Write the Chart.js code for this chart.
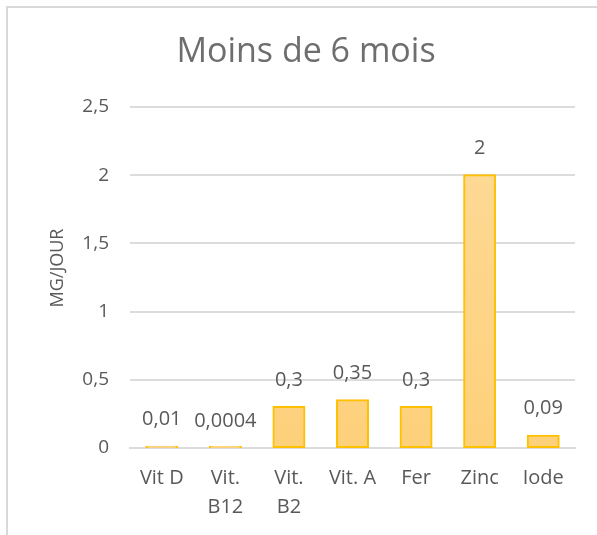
<!DOCTYPE html>
<html>
<head>
<meta charset="utf-8">
<script src="https://cdn.jsdelivr.net/npm/chart.js@4"></script>
<style>
  body { margin: 0; background: #fff; }
  #wrap { position: relative; width: 597px; height: 535px; }
  #frame { position: absolute; left: 6px; top: 6px; right: -4px; bottom: -4px;
           border-left: 2px solid #d9d9d9; border-top: 2px solid #d9d9d9; }
  canvas { position: absolute; left: 0; top: 0; }
</style>
</head>
<body>
<div id="wrap">
  <div id="frame"></div>
  <canvas id="ov" width="597" height="535"></canvas>
</div>
<script>
const categories = ["Vit D", ["Vit.", "B12"], ["Vit.", "B2"], "Vit. A", "Fer", "Zinc", "Iode"];
const valuesMg = [0.01, 0.0004, 0.3, 0.35, 0.3, 2, 0.09];
const yTicks = [0, 0.5, 1, 1.5, 2, 2.5];
const chartTitle = "Moins de 6 mois";
const yTitle = "MG/JOUR";

const grey = "#595959";
const fontFamily = "'Open Sans', sans-serif";

function fr(v) {
  return String(v).replace(".", ",");
}

// titres (placés comme dans Excel) + étiquettes au-dessus des barres
const barLabels = {
  id: "barLabels",
  afterDatasetsDraw(chart) {
    const ctx = chart.ctx;
    const meta = chart.getDatasetMeta(0);
    ctx.save();
    ctx.font = "34px " + fontFamily;
    ctx.fillStyle = "#6e6e6e";
    ctx.textAlign = "center";
    ctx.textBaseline = "alphabetic";
    ctx.fillText(chartTitle, 306, 62);

    ctx.save();
    ctx.translate(58, 268);
    ctx.rotate(-Math.PI / 2);
    ctx.font = "18px " + fontFamily;
    ctx.fillStyle = grey;
    ctx.textBaseline = "middle";
    ctx.fillText(yTitle, 0, 0);
    ctx.restore();

    ctx.font = "20px " + fontFamily;
    ctx.fillStyle = grey;
    ctx.textBaseline = "middle";
    meta.data.forEach((bar, i) => {
      ctx.fillText(fr(valuesMg[i]), bar.x, bar.y - 27);
    });
    ctx.restore();
  },
};

function barFill(context) {
  const area = context.chart.chartArea;
  if (!area) return "#fed58a";
  const g = context.chart.ctx.createLinearGradient(0, area.top, 0, area.bottom);
  g.addColorStop(0, "#fedb9a");
  g.addColorStop(1, "#fdd07a");
  return g;
}

const ctx = document.getElementById("ov").getContext("2d");
const myChart = new Chart(ctx, {
  type: "bar",
  data: {
    labels: categories,
    datasets: [
      {
        data: valuesMg,
        backgroundColor: barFill,
        borderColor: "#ffc000",
        borderWidth: 2,
        borderSkipped: false,
        inflateAmount: 1,
        barPercentage: 0.487,
        categoryPercentage: 1,
      },
    ],
  },
  plugins: [barLabels],
  options: {
    responsive: false,
    animation: false,
    layout: {
      padding: { left: 0, right: 22, top: 107, bottom: 0 },
    },
    plugins: {
      legend: { display: false },
      tooltip: { enabled: false },
      title: { display: false },
    },
    scales: {
      y: {
        min: 0,
        max: 2.5,
        afterBuildTicks(scale) {
          scale.ticks = yTicks.map((v) => ({ value: v }));
        },
        afterFit(scale) {
          scale.width = 130;
        },
        border: { display: false },
        grid: { color: "#dcdcdc", lineWidth: 2, drawTicks: false },
        ticks: {
          color: grey,
          padding: 21,
          font: { family: fontFamily, size: 19 },
          callback: (v) => fr(v),
        },
      },
      x: {
        afterFit(scale) {
          scale.height = 87;
        },
        border: { color: "#dcdcdc", width: 2 },
        grid: { display: false, drawTicks: false },
        ticks: {
          color: grey,
          padding: 16,
          maxRotation: 0,
          font: { family: fontFamily, size: 20, lineHeight: 1.45 },
        },
      },
    },
  },
});
</script>
</body>
</html>
